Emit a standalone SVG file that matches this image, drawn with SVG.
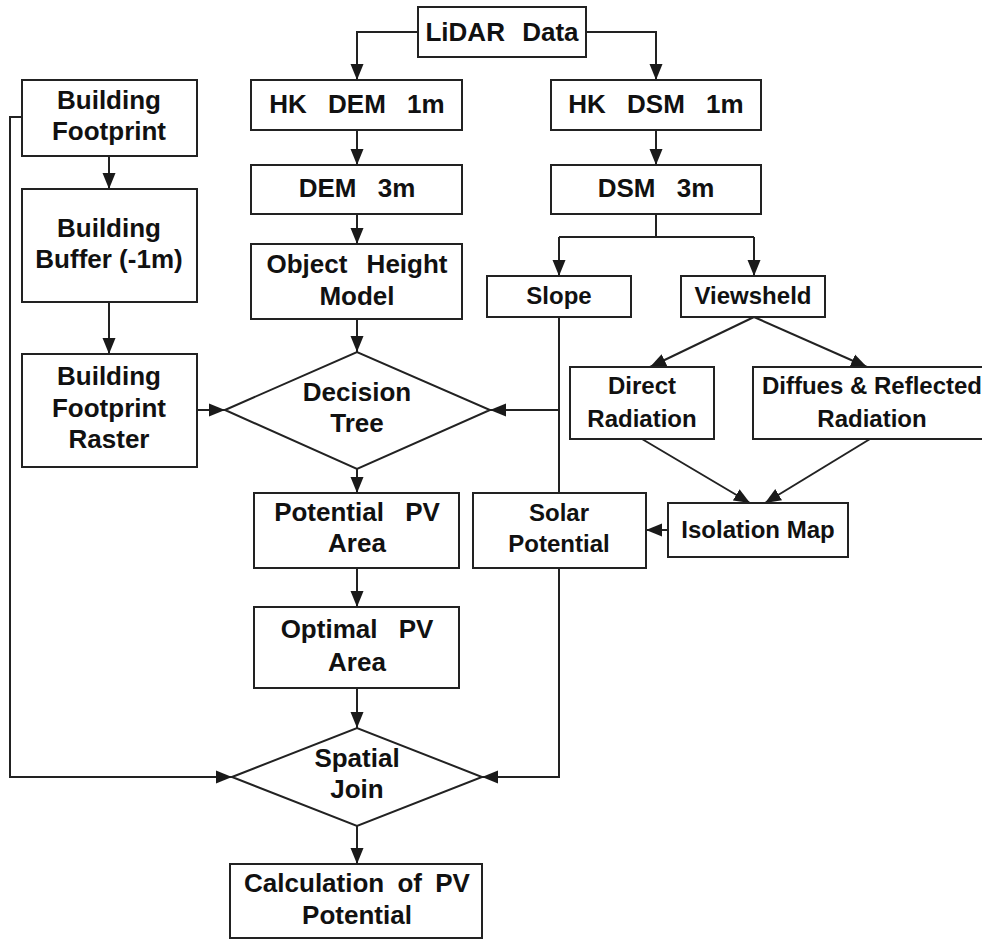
<svg xmlns="http://www.w3.org/2000/svg" width="982" height="939" viewBox="0 0 982 939">
<defs>
<marker id="ah" markerUnits="userSpaceOnUse" markerWidth="18" markerHeight="14" refX="16" refY="7" orient="auto">
<path d="M0,0.5 L16,7 L0,13.5 z" fill="#1a1a1a"/>
</marker>
<style>
.box{fill:#fff;stroke:#222;stroke-width:2}
.t{font-family:"Liberation Sans",Arial,sans-serif;font-weight:bold;font-size:26px;fill:#111;text-anchor:middle}
.s{font-size:24px}
.c{fill:none;stroke:#222;stroke-width:2}
.a{marker-end:url(#ah)}
</style>
</defs>
<rect width="982" height="939" fill="#fff"/>
<g id="connectors">
<path class="c a" d="M418,32 H357 V80"/>
<path class="c a" d="M586,32 H656 V80"/>
<path class="c a" d="M109,156 V189"/>
<path class="c a" d="M109,302 V354"/>
<path class="c a" d="M357,130 V165"/>
<path class="c a" d="M357,214 V244"/>
<path class="c a" d="M357,319 V352"/>
<path class="c a" d="M656,130 V165"/>
<path class="c" d="M656,214 V237 M559,237 H754"/>
<path class="c a" d="M559,237 V276"/>
<path class="c a" d="M754,237 V276"/>
<path class="c a" d="M197,410 H225"/>
<path class="c a" d="M754,317 L650,367"/>
<path class="c a" d="M754,317 L867,367"/>
<path class="c a" d="M642,439 L750,503"/>
<path class="c a" d="M870,439 L765,503"/>
<path class="c a" d="M668,530 H646"/>
<path class="c" d="M559,317 V493"/>
<path class="c a" d="M559,410 H490"/>
<path class="c a" d="M559,568 V777 H482"/>
<path class="c a" d="M22,117 H10 V777 H232"/>
<path class="c a" d="M357,469 V493"/>
<path class="c a" d="M357,568 V607"/>
<path class="c a" d="M357,688 V728"/>
<path class="c a" d="M357,826 V864"/>
</g>
<g id="lidar"><rect class="box" x="418" y="7" width="168" height="50"/><text class="t" x="502" y="41" word-spacing="10">LiDAR Data</text></g>
<g id="hkdem"><rect class="box" x="251" y="80" width="211" height="50"/><text class="t" x="357" y="113" word-spacing="14">HK DEM 1m</text></g>
<g id="dem3"><rect class="box" x="251" y="165" width="211" height="49"/><text class="t" x="357" y="197" word-spacing="14">DEM 3m</text></g>
<g id="ohm"><rect class="box" x="251" y="244" width="211" height="75"/><text class="t" x="357" y="273" word-spacing="12">Object Height</text><text class="t" x="357" y="305">Model</text></g>
<g id="hkdsm"><rect class="box" x="551" y="80" width="210" height="50"/><text class="t" x="656" y="113" word-spacing="14">HK DSM 1m</text></g>
<g id="dsm3"><rect class="box" x="551" y="165" width="210" height="49"/><text class="t" x="656" y="197" word-spacing="14">DSM 3m</text></g>
<g id="slope"><rect class="box" x="487" y="276" width="144" height="41"/><text class="t s" x="559" y="304">Slope</text></g>
<g id="viewsheld"><rect class="box" x="681" y="276" width="144" height="41"/><text class="t s" x="753" y="304">Viewsheld</text></g>
<g id="bfootprint"><rect class="box" x="22" y="80" width="175" height="76"/><text class="t" x="109" y="109">Building</text><text class="t" x="109" y="140">Footprint</text></g>
<g id="bbuffer"><rect class="box" x="22" y="189" width="175" height="113"/><text class="t" x="109" y="237">Building</text><text class="t" x="109" y="268">Buffer (-1m)</text></g>
<g id="braster"><rect class="box" x="22" y="354" width="175" height="113"/><text class="t" x="109" y="385">Building</text><text class="t" x="109" y="417">Footprint</text><text class="t" x="109" y="448">Raster</text></g>
<g id="decision"><polygon class="box" points="225,410 357,352 490,410 357,469"/><text class="t" x="357" y="401">Decision</text><text class="t" x="357" y="432">Tree</text></g>
<g id="direct"><rect class="box" x="570" y="367" width="144" height="72"/><text class="t s" x="642" y="394">Direct</text><text class="t s" x="642" y="427">Radiation</text></g>
<g id="diffuse"><rect class="box" x="753" y="367" width="238" height="72"/><text class="t s" x="872" y="394">Diffues &amp; Reflected</text><text class="t s" x="872" y="427">Radiation</text></g>
<g id="isolation"><rect class="box" x="668" y="503" width="180" height="54"/><text class="t s" x="758" y="538">Isolation Map</text></g>
<g id="solar"><rect class="box" x="473" y="493" width="173" height="75"/><text class="t s" x="559" y="521">Solar</text><text class="t s" x="559" y="552">Potential</text></g>
<g id="potential"><rect class="box" x="254" y="493" width="205" height="75"/><text class="t" x="357" y="521" word-spacing="14">Potential PV</text><text class="t" x="357" y="552">Area</text></g>
<g id="optimal"><rect class="box" x="254" y="607" width="205" height="81"/><text class="t" x="357" y="638" word-spacing="14">Optimal PV</text><text class="t" x="357" y="671">Area</text></g>
<g id="spatial"><polygon class="box" points="232,777 357,728 482,777 357,826"/><text class="t" x="357" y="767">Spatial</text><text class="t" x="357" y="798">Join</text></g>
<g id="calc"><rect class="box" x="230" y="864" width="252" height="74"/><text class="t" x="357" y="892" word-spacing="6">Calculation of PV</text><text class="t" x="357" y="924">Potential</text></g>
</svg>
